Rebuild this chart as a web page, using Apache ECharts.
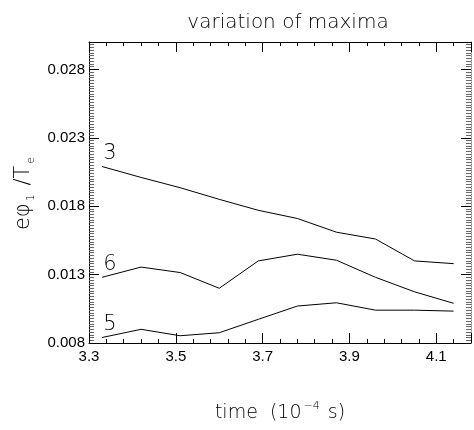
<!DOCTYPE html>
<html>
<head>
<meta charset="utf-8">
<script src="https://cdn.jsdelivr.net/npm/echarts@6/dist/echarts.min.js"></script>
<style>html,body{margin:0;padding:0;background:#fff;}#c{width:474px;height:430px;}</style>
</head>
<body>
<div id="c"></div>
<script>
const time = [3.33, 3.42, 3.51, 3.60, 3.69, 3.78, 3.87, 3.96, 4.05, 4.14];
const mode3 = [0.0209, 0.0201, 0.01935, 0.0185, 0.0177, 0.0171, 0.0161, 0.0156, 0.0140, 0.0138];
const mode6 = [0.0128, 0.01355, 0.01315, 0.0120, 0.0140, 0.01449, 0.01405, 0.0128, 0.01174, 0.0109];
const mode5 = [0.0084, 0.0090, 0.00853, 0.00875, 0.00973, 0.0107, 0.01094, 0.0104, 0.0104, 0.01033];
const seriesNames = ['3', '6', '5'];
const xTickLabels = ['3.3', '3.5', '3.7', '3.9', '4.1'];
const yTickLabels = ['0.008', '0.013', '0.018', '0.023', '0.028'];

const X_MIN = 3.3, X_MAX = 4.18, X_INT = 0.2;
const Y_MIN = 0.008, Y_MAX = 0.030, Y_INT = 0.005;

function xLabel(v) {
  const k = (v - X_MIN) / X_INT;
  const r = Math.round(k);
  if (Math.abs(k - r) > 1e-6 || r < 0 || r >= xTickLabels.length) return '';
  return xTickLabels[r];
}
function yLabel(v) {
  const k = (v - Y_MIN) / Y_INT;
  const r = Math.round(k);
  if (Math.abs(k - r) > 1e-6 || r < 0 || r >= yTickLabels.length) return '';
  return yTickLabels[r];
}

const lineFont = '"DejaVu Sans", sans-serif';
const tickFont = '"Liberation Sans", Arial, sans-serif';

function mkSeries(name, vals) {
  return {
    name: name,
    type: 'line',
    data: time.map((t, i) => [t, vals[i]]),
    showSymbol: true,
    symbol: 'circle',
    symbolSize: 0,
    lineStyle: { color: '#000', width: 1 },
    itemStyle: { color: '#000' },
    animation: false,
    label: {
      show: true,
      position: 'top',
      distance: 2,
      offset: [8, 0],
      fontFamily: lineFont,
      fontSize: 21,
      fontWeight: 'lighter',
      color: '#000',
      formatter: p => (p.dataIndex === 0 ? name : '')
    }
  };
}

const baseX = {
  type: 'value', min: X_MIN, max: X_MAX, interval: X_INT,
  axisLine: { show: true, onZero: false, lineStyle: { color: '#000', width: 1 } },
  axisTick: { show: true, inside: true, length: 10, lineStyle: { color: '#000' } },
  minorTick: { show: true, splitNumber: 5, length: 4, lineStyle: { color: '#000' } },
  splitLine: { show: false }, minorSplitLine: { show: false }
};
const baseY = {
  type: 'value', min: Y_MIN, max: Y_MAX, interval: Y_INT,
  axisLine: { show: true, onZero: false, lineStyle: { color: '#000', width: 1 } },
  axisTick: { show: true, inside: true, length: 10, lineStyle: { color: '#000' } },
  minorTick: { show: true, splitNumber: 25, length: 5, lineStyle: { color: '#666' } },
  splitLine: { show: false }, minorSplitLine: { show: false }
};

const chart = echarts.init(document.getElementById('c'), null, { renderer: 'canvas' });
chart.setOption({
  animation: false,
  backgroundColor: '#fff',
  title: {
    text: 'variation of maxima',
    left: 283, top: 8, textAlign: 'center',
    textStyle: { fontFamily: lineFont, fontSize: 20, fontWeight: 'lighter', color: '#000' }
  },
  grid: { left: 89, right: 3, top: 42, bottom: 87, containLabel: false },
  xAxis: [
    Object.assign({}, baseX, {
      position: 'bottom',
      name: '{a|time  (10}{s|−4}{a| s)}',
      nameLocation: 'middle', nameGap: 58,
      nameTextStyle: {
        rich: {
          a: { fontFamily: lineFont, fontSize: 19, fontWeight: 'lighter', color: '#000', lineHeight: 24 },
          s: { fontFamily: lineFont, fontSize: 11, fontWeight: 'lighter', color: '#000', lineHeight: 24, verticalAlign: 'top', padding: [0, 2, 10, 2] }
        }
      },
      axisLabel: {
        show: true, margin: 6, fontFamily: tickFont, fontSize: 15, color: '#000',
        formatter: xLabel, showMaxLabel: false
      }
    }),
    Object.assign({}, baseX, {
      position: 'top',
      axisLabel: { show: false }
    })
  ],
  yAxis: [
    Object.assign({}, baseY, {
      position: 'left',
      name: '{a|eφ}{s|1}{a| /T}{s|e}',
      nameLocation: 'middle', nameRotate: 90, nameGap: 52,
      nameTextStyle: {
        rich: {
          a: { fontFamily: lineFont, fontSize: 21, fontWeight: 'lighter', color: '#000', lineHeight: 26 },
          s: { fontFamily: lineFont, fontSize: 11, fontWeight: 'lighter', color: '#000', lineHeight: 26, verticalAlign: 'bottom', padding: [8, 2, 0, 2] }
        }
      },
      axisLabel: {
        show: true, margin: 4, fontFamily: tickFont, fontSize: 15, color: '#000',
        formatter: yLabel, showMaxLabel: false
      }
    }),
    Object.assign({}, baseY, {
      position: 'right',
      axisLine: { show: true, onZero: false, lineStyle: { color: '#888', width: 1, type: 'dotted' } },
      axisLabel: { show: false }
    })
  ],
  series: [
    mkSeries(seriesNames[0], mode3),
    mkSeries(seriesNames[1], mode6),
    mkSeries(seriesNames[2], mode5)
  ]
});
</script>
</body>
</html>
